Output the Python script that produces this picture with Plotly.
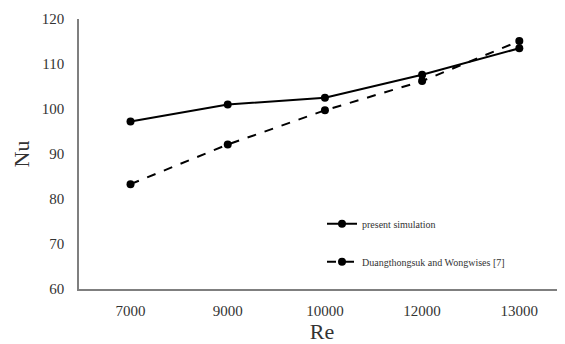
import plotly.graph_objects as go

re_labels = ["7000", "9000", "10000", "12000", "13000"]
nu_present = [97.2, 101.0, 102.5, 107.6, 113.5]
nu_duang = [83.3, 92.1, 99.7, 106.2, 115.1]
y_ticks = [60, 70, 80, 90, 100, 110, 120]

serif = "Liberation Serif, Times New Roman, serif"
txt = "#333333"

fig = go.Figure()
fig.add_trace(go.Scatter(
    x=re_labels, y=nu_present, name="present simulation", mode="lines+markers",
    line=dict(color="black", width=2), marker=dict(color="black", size=8),
    legendgroup="a"))
fig.add_trace(go.Scatter(
    x=re_labels, y=nu_duang, name="Duangthongsuk and Wongwises [7]", mode="lines+markers",
    line=dict(color="black", width=2, dash="dash"), marker=dict(color="black", size=8),
    legendgroup="b"))

fig.update_layout(
    width=557, height=336,
    margin=dict(l=71, r=0, t=11, b=55),
    paper_bgcolor="white", plot_bgcolor="white",
    font=dict(family=serif, color=txt),
    showlegend=True,
    legend=dict(x=0.50, y=0.295, xanchor="left", yanchor="top",
                bgcolor="rgba(0,0,0,0)", font=dict(size=10, family=serif, color=txt),
                traceorder="grouped", tracegroupgap=19),
    xaxis=dict(type="category", range=[-0.53, 4.47], showgrid=False, showline=True,
               linecolor="#7f7f7f", linewidth=1.5, ticks="", zeroline=False,
               ticklabelstandoff=7,
               tickfont=dict(size=15, family=serif, color=txt),
               title=dict(text="Re", font=dict(size=22, family=serif, color=txt), standoff=11)),
    yaxis=dict(range=[60, 120], tickvals=y_ticks, showgrid=False, showline=True,
               linecolor="#7f7f7f", linewidth=1.5, ticks="", zeroline=False,
               ticklabelstandoff=10,
               tickfont=dict(size=15, family=serif, color=txt),
               title=dict(text="Nu", font=dict(size=22, family=serif, color=txt), standoff=6)),
)
fig.write_html("out.html")
